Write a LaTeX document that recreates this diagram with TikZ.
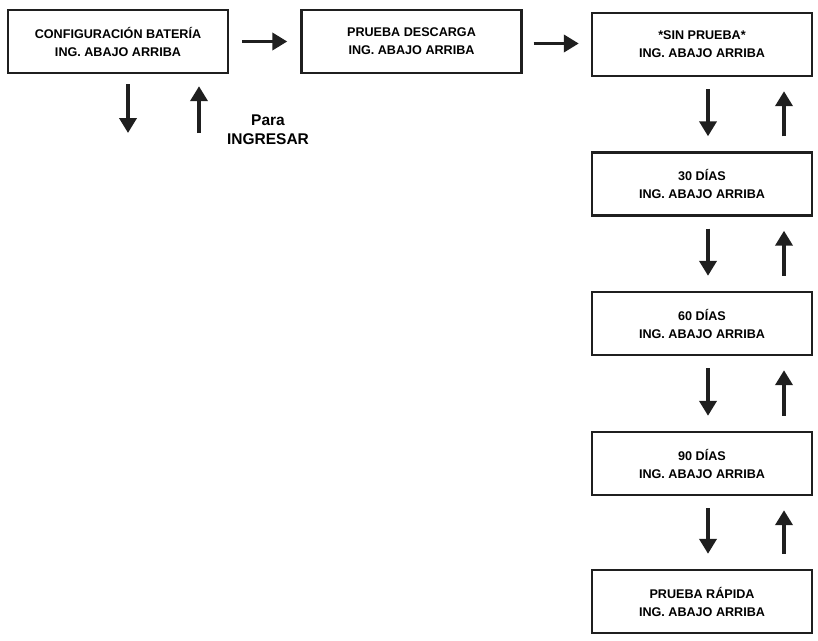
\documentclass[tikz,border=0pt]{standalone}
\usepackage{fontspec}
\setmainfont{Liberation Sans}
\usetikzlibrary{arrows.meta,calc}

\begin{document}
\begin{tikzpicture}[x=1pt,y=-1pt,>={Triangle[width=17pt,length=15pt]},line width=3.8pt]
  \tikzstyle{pantalla}=[draw=black!88, line width=2.4pt, minimum width=220pt, minimum height=63pt, inner sep=0pt, align=center, font=\fontsize{12.6}{18}\selectfont\bfseries]
  \tikzstyle{flecha}=[->, draw=black!88]
  \useasboundingbox (0,0) rectangle (818,640);

  \node[pantalla] (bateria) at (118,41.5) {CONFIGURACIÓN BATERÍA\\ING. ABAJO ARRIBA};
  \node[pantalla] (descarga) at (411.5,41.5) {PRUEBA DESCARGA\\ING. ABAJO ARRIBA};
  \node[pantalla] (sinprueba) at (702,44.5) {*SIN PRUEBA*\\ING. ABAJO ARRIBA};
  \node[pantalla] (dias30) at (702,184) {30 DÍAS\\ING. ABAJO ARRIBA};
  \node[pantalla] (dias60) at (702,323.5) {60 DÍAS\\ING. ABAJO ARRIBA};
  \node[pantalla] (dias90) at (702,463.5) {90 DÍAS\\ING. ABAJO ARRIBA};
  \node[pantalla] (rapida) at (702,601.5) {PRUEBA RÁPIDA\\ING. ABAJO ARRIBA};

  \coordinate (salida) at (128,133);
  \coordinate (entrada) at (199,133);
  \node[align=center, font=\fontsize{15.5}{19}\selectfont\bfseries] (ingresar) at (268,130) {Para\\INGRESAR};

  \draw[flecha, shorten <=13pt, shorten >=13pt] (bateria.east) -- (bateria.east -| descarga.west);
  \draw[flecha, shorten <=11pt, shorten >=12pt] ($(descarga.east)+(0,2)$) -- ($(descarga.east -| sinprueba.west)+(0,2)$);
  \draw[flecha, shorten <=10pt] (bateria.south -| salida) -- (salida);
  \draw[flecha, shorten >=12pt] (entrada) -- (bateria.south -| entrada);

  \foreach \a/\b in {sinprueba/dias30, dias30/dias60, dias60/dias90, dias90/rapida} {
    \draw[flecha, shorten <=12pt, shorten >=15pt] ([xshift=6pt]\a.south) -- ([xshift=6pt]\b.north);
    \draw[flecha, shorten <=15pt, shorten >=14pt] ([xshift=82pt]\b.north) -- ([xshift=82pt]\a.south);
  }
\end{tikzpicture}
\end{document}
